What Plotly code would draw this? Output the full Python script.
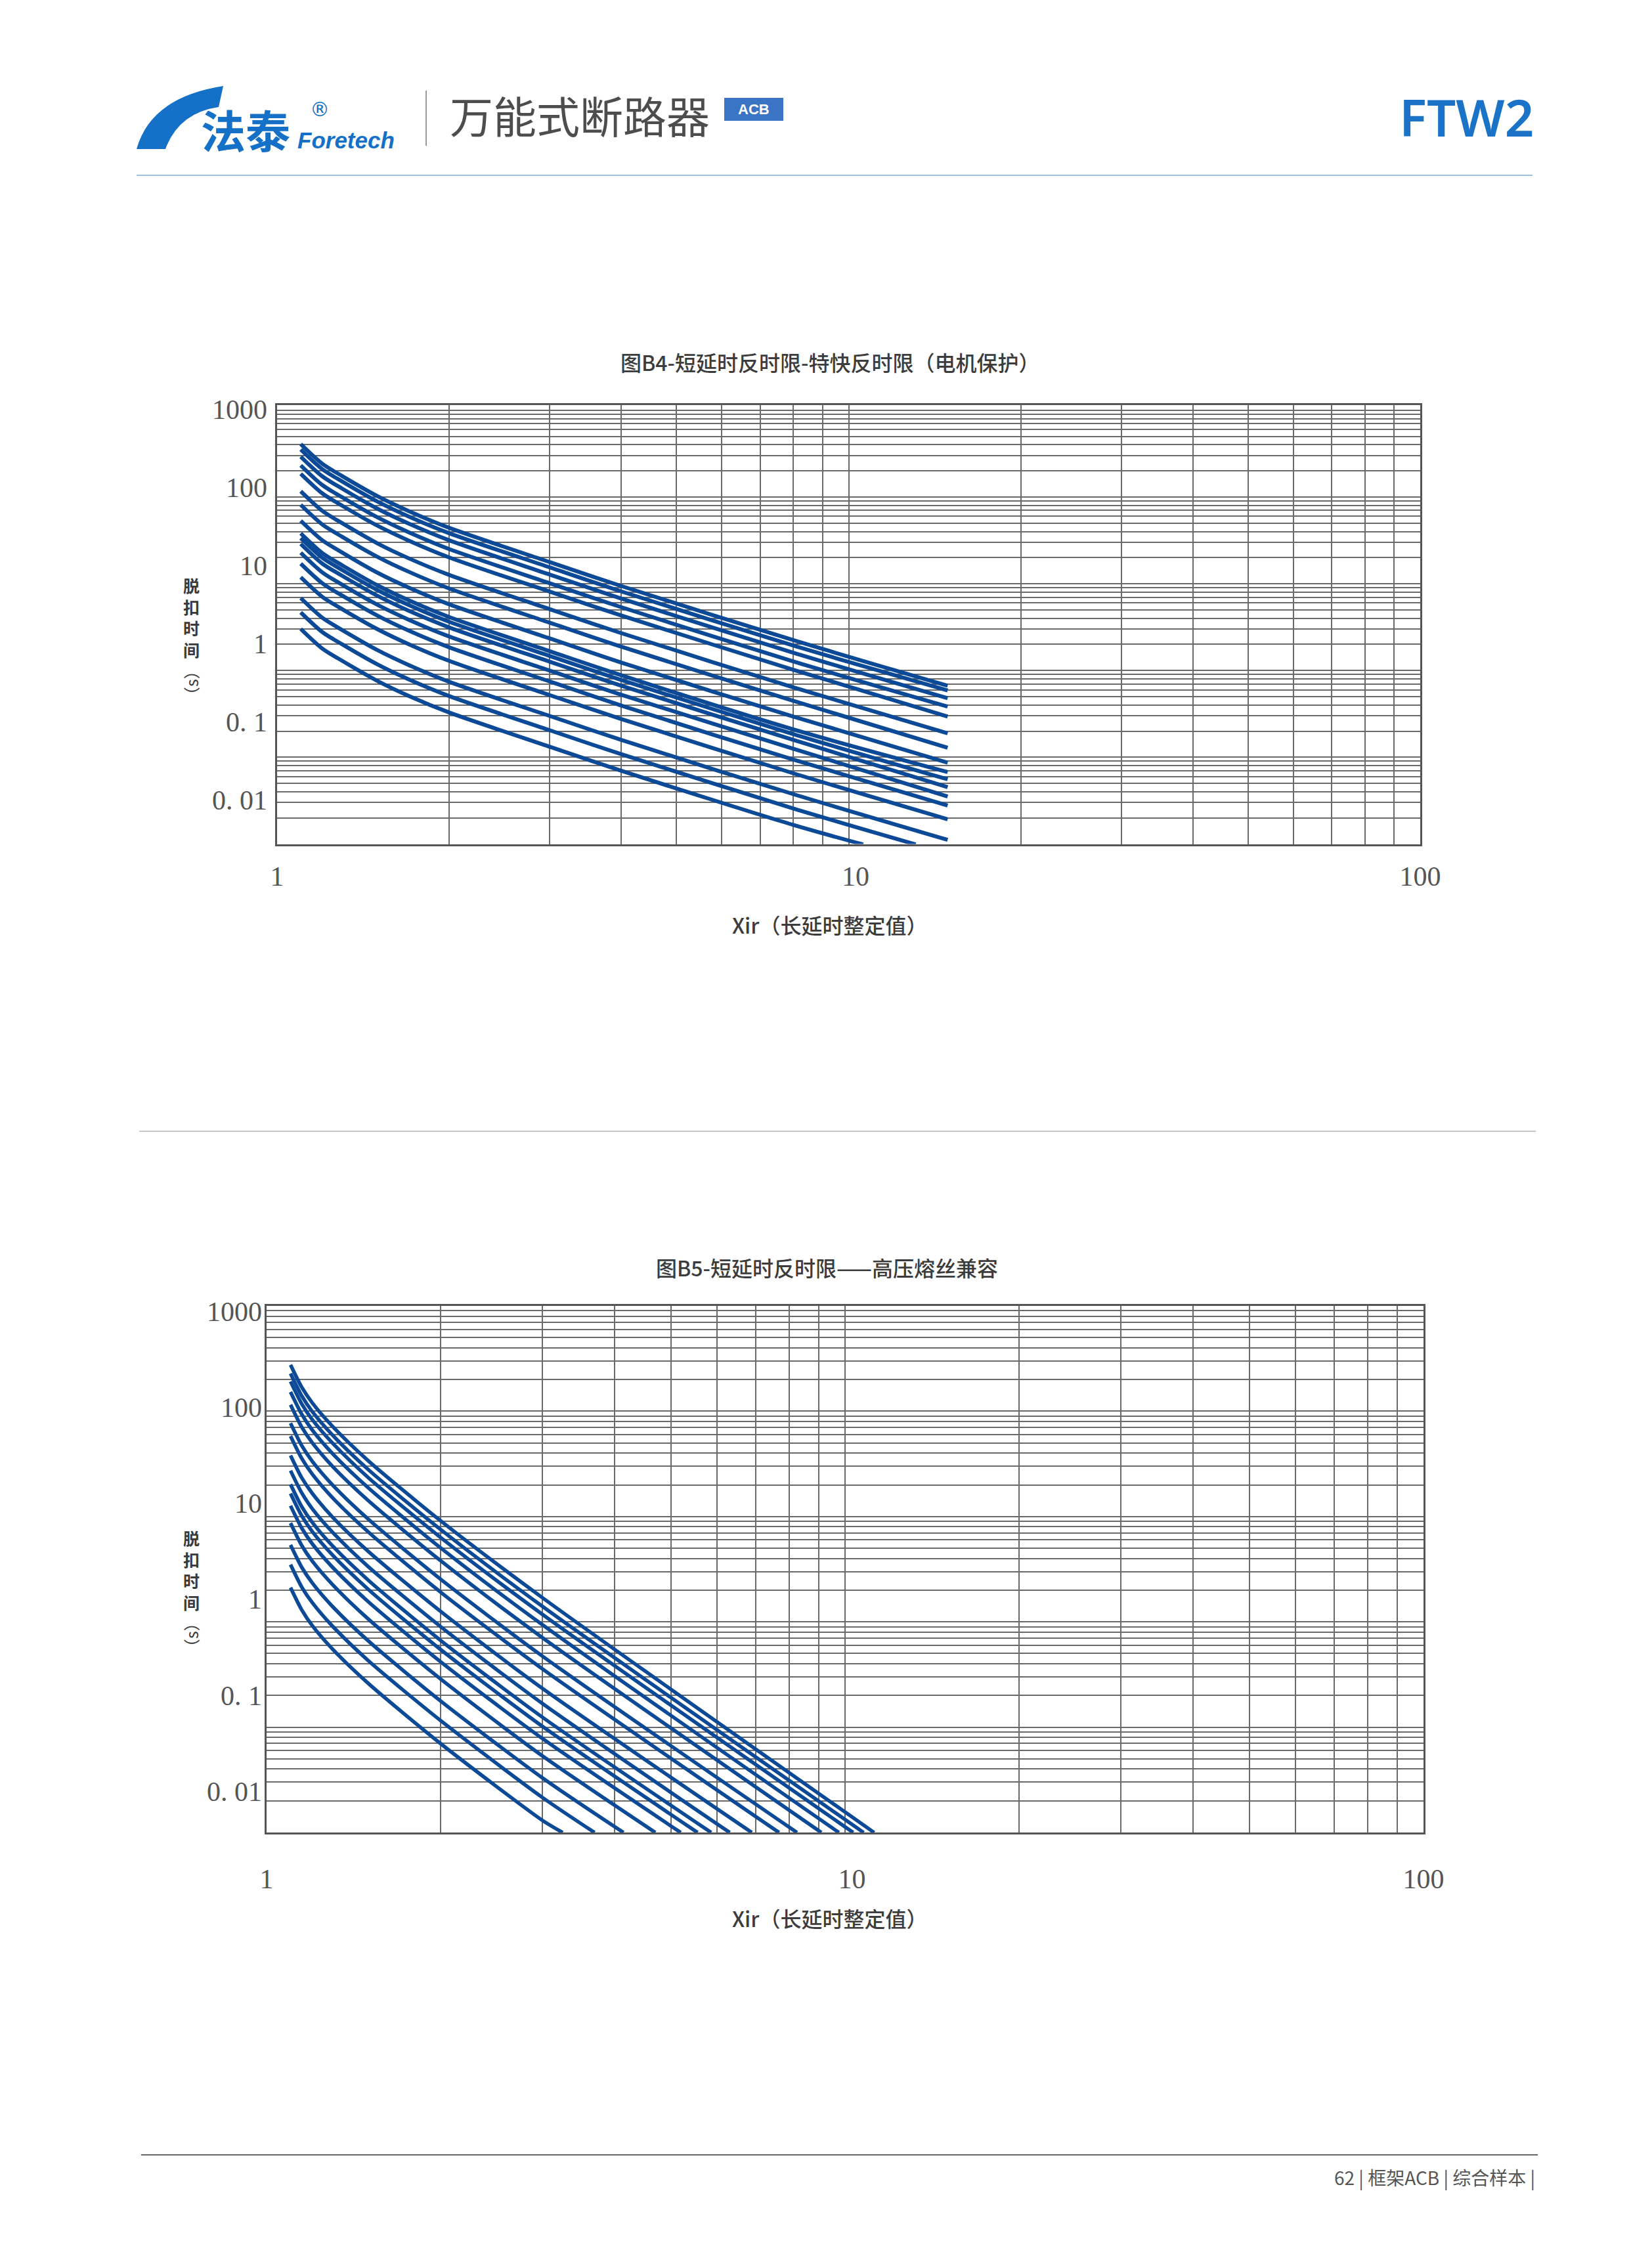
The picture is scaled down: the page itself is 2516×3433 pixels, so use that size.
import plotly.graph_objects as go

W, H = 2516, 3433

# ------------------------------------------------------------------ data
# Figure B4 : short-delay inverse time, extremely inverse (motor protection)
B4_XIR = [1.1, 1.2, 1.3, 1.5, 1.7, 2, 3, 4, 8, 14.9]
B4_TIMES = [
    [359, 201, 140, 77.2, 49.9, 30.5, 11.1, 5.49, 1.113, 0.290],
    [306, 171.4, 119.3, 65.8, 42.5, 26, 9.49, 4.68, 0.949, 0.253],
    [248, 138.9, 96.7, 53.3, 34.5, 21.1, 7.69, 3.79, 0.769, 0.201],
    [192, 107.5, 74.9, 41.3, 26.7, 16.3, 5.95, 2.94, 0.595, 0.157],
    [150, 84, 58.5, 32.3, 20.9, 12.75, 4.65, 2.30, 0.465, 0.117],
    [89.5, 50.1, 34.9, 19.2, 12.4, 7.61, 2.77, 1.37, 0.277, 0.0713],
    [60, 33.6, 23.4, 12.9, 8.34, 5.1, 1.86, 0.918, 0.186, 0.0466],
    [37.6, 21.1, 14.7, 8.08, 5.23, 3.2, 1.17, 0.575, 0.117, 0.0301],
    [25.9, 14.5, 10.1, 5.57, 3.6, 2.2, 0.803, 0.396, 0.0803, 0.0228],
    [22.5, 12.6, 8.78, 4.84, 3.13, 1.91, 0.698, 0.344, 0.0698, 0.0184],
    [19.0, 10.6, 7.41, 4.09, 2.64, 1.62, 0.589, 0.291, 0.0589, 0.0146],
    [14.6, 8.18, 5.69, 3.14, 2.03, 1.24, 0.453, 0.223, 0.0453, 0.0111],
    [10.6, 5.94, 4.13, 2.28, 1.47, 0.901, 0.329, 0.162, 0.0329, 0.0085],
    [7.1, 3.98, 2.77, 1.53, 0.987, 0.604, 0.22, 0.109, 0.022, 0.00567],
    [3.84, 2.15, 1.5, 0.826, 0.534, 0.326, 0.119, 0.0588, 0.0119, 0.00309],
]
B4_SHORT_XIR = [[1.1, 1.2, 1.3, 1.5, 1.7, 2, 3, 4, 8, 13.1],
                [1.1, 1.2, 1.3, 1.5, 1.7, 2, 3, 4, 8, 10.6]]
B4_SHORT_TIMES = [[2.52, 1.41, 0.983, 0.542, 0.35, 0.214, 0.0781, 0.0386, 0.0078, 0.0027],
                  [1.55, 0.868, 0.605, 0.333, 0.215, 0.132, 0.048, 0.0237, 0.0048, 0.0027]]

# Figure B5 : short-delay inverse time, HV fuse compatible
B5_XIR = [1.1, 1.15, 1.2, 1.3, 1.5, 2, 3]
B5_TIMES = [
    [276, 161.7, 110.4, 63.1, 27.5, 6.53, 1.032],
    [224, 131.3, 89.6, 51.2, 22.3, 5.30, 0.838],
    [185, 108.4, 74, 42.3, 18.4, 4.38, 0.692],
    [144, 84.4, 57.6, 32.9, 14.4, 3.41, 0.539],
    [106, 62.1, 42.4, 24.2, 10.6, 2.51, 0.396],
    [68, 39.8, 27.2, 15.5, 6.78, 1.61, 0.254],
    [50, 29.3, 20, 11.4, 4.99, 1.18, 0.187],
    [31.4, 18.4, 12.6, 7.17, 3.13, 0.743, 0.117],
    [21.8, 12.8, 8.72, 4.98, 2.17, 0.516, 0.0815],
    [15.7, 9.2, 6.28, 3.59, 1.57, 0.371, 0.0587],
    [12.6, 7.38, 5.04, 2.88, 1.26, 0.298, 0.0471],
    [9.4, 5.51, 3.76, 2.15, 0.937, 0.222, 0.0352],
    [6.2, 3.63, 2.48, 1.42, 0.618, 0.147, 0.0232],
    [3.67, 2.15, 1.47, 0.839, 0.366, 0.0868, 0.0137],
    [2.29, 1.34, 0.916, 0.523, 0.228, 0.0542, 0.00856],
    [1.32, 0.774, 0.528, 0.302, 0.132, 0.0312, 0.00494],
]
B5_END_XIR = [11.23, 10.77, 10.33, 9.76, 9.10, 8.26, 7.69, 6.90,
              6.32, 5.87, 5.56, 5.20, 4.70, 4.14, 3.69, 3.25]
B5_END_TIME = 0.0037

Y_TICKS = [0.01, 0.1, 1, 10, 100, 1000]
Y_TICKTEXT = ["0. 01", "0. 1", "1", "10", "100", "1000"]
X_TICKS = [1, 10, 100]
X_TICKTEXT = ["1", "\u00a0\u00a010", "100"]

TITLE_B4 = "图B4-短延时反时限-特快反时限（电机保护）"
TITLE_B5 = "图B5-短延时反时限——高压熔丝兼容"
X_TITLE = "Xir（长延时整定值）"
Y_TITLE = "脱扣时间"
Y_UNIT = "（s）"

# ------------------------------------------------------------------ style
BLUE = "#0c4a98"
GRID = "#6a6a6a"
FRAME = "#555555"
CJK = "Noto Sans CJK SC"
SERIF = "Liberation Serif"

def px(x):
    return x / W

def py(y):
    return 1 - y / H

grid_x = [m * 10 ** k for k in range(0, 2) for m in range(1, 10)] + [100]
grid_y = [m * 10.0 ** k for k in range(-2, 3) for m in range(1, 10)] + [1000]
xt_text = [X_TICKTEXT[X_TICKS.index(v)] if v in X_TICKS else "" for v in grid_x]

fig = go.Figure()

# invisible anchors so the grid subplots exist
fig.add_trace(go.Scatter(x=[1], y=[1], mode="markers", marker=dict(opacity=0),
                         xaxis="x", yaxis="y", showlegend=False, hoverinfo="skip"))
fig.add_trace(go.Scatter(x=[1], y=[1], mode="markers", marker=dict(opacity=0),
                         xaxis="x2", yaxis="y3", showlegend=False, hoverinfo="skip"))

line_top = dict(color=BLUE, width=6, shape="spline", smoothing=0.8)
for t in B4_TIMES:
    fig.add_trace(go.Scatter(x=B4_XIR, y=t, mode="lines", line=line_top,
                             xaxis="x", yaxis="y2", showlegend=False, hoverinfo="skip"))
for xs, t in zip(B4_SHORT_XIR, B4_SHORT_TIMES):
    fig.add_trace(go.Scatter(x=xs, y=t, mode="lines", line=line_top,
                             xaxis="x", yaxis="y2", showlegend=False, hoverinfo="skip"))

line_bot = dict(color=BLUE, width=5.5, shape="spline", smoothing=0.7)
for t, xe in zip(B5_TIMES, B5_END_XIR):
    xs = B5_XIR[:len(t)] + [xe]
    ys = t + [B5_END_TIME]
    fig.add_trace(go.Scatter(x=xs, y=ys, mode="lines", line=line_bot,
                             xaxis="x2", yaxis="y4", showlegend=False, hoverinfo="skip"))

# chart geometry (pixels)
T = dict(l=422, r=2163, t=617, b=1285.5, one=980.5, dec=119.0, gtop=624.8, gdec=132.0)
B = dict(l=406, r=2168, t=1989, b=2791, top_lab=1997, dec=146.2)

def grid_x_axis(dom, anchor, standoff):
    return dict(domain=dom, anchor=anchor, type="log", range=[0, 2],
                tickvals=grid_x, ticktext=xt_text, ticks="", automargin=False,
                showgrid=True, gridcolor=GRID, gridwidth=1.6,
                showline=True, mirror=True, linecolor=FRAME, linewidth=3,
                zeroline=False, ticklabelstandoff=standoff,
                tickfont=dict(family=SERIF, size=42, color="#555555"))

def grid_y_axis(dom, anchor, rng):
    return dict(domain=dom, anchor=anchor, type="log", range=rng,
                tickvals=grid_y, showticklabels=False, ticks="", automargin=False,
                showgrid=True, gridcolor=GRID, gridwidth=1.6,
                showline=True, mirror=True, linecolor=FRAME, linewidth=3,
                zeroline=False)

def label_y_axis(over, anchor, rng, standoff):
    return dict(overlaying=over, anchor=anchor, side="left", type="log", range=rng,
                tickvals=Y_TICKS, ticktext=Y_TICKTEXT, ticks="", automargin=False,
                showgrid=False, showline=False, zeroline=False,
                ticklabelstandoff=standoff,
                tickfont=dict(family=SERIF, size=42, color="#555555"))

top_y_dom = [py(T["b"]), py(T["t"])]
bot_y_dom = [py(B["b"]), py(B["t"])]

layout = dict(
    template="none", autosize=False,
    width=W, height=H, margin=dict(l=0, r=0, t=0, b=0, pad=0, autoexpand=False),
    paper_bgcolor="white", plot_bgcolor="white", showlegend=False,
    xaxis=grid_x_axis([px(T["l"]), px(T["r"])], "y", 10),
    yaxis=grid_y_axis(top_y_dom, "x", [-2, 3 + (T["gtop"] - T["t"]) / T["gdec"]]),
    yaxis2=label_y_axis("y", "x", [(T["one"] - T["b"]) / T["dec"], (T["one"] - T["t"]) / T["dec"]], 14),
    xaxis2=grid_x_axis([px(B["l"]), px(B["r"])], "y3", 32),
    yaxis3=grid_y_axis(bot_y_dom, "x2", [-2, 3]),
    yaxis4=label_y_axis("y3", "x2", [3 - (B["b"] - B["top_lab"]) / B["dec"], 3 + (B["top_lab"] - B["t"]) / B["dec"]], 6),
)
fig.update_layout(**layout)

ann = []
def txt(x, y, s, size, color, family=CJK, xanchor="center", yanchor="middle",
        weight="normal", style="normal", angle=0):
    ann.append(dict(x=px(x), y=py(y), xref="paper", yref="paper", text=s, showarrow=False,
                    xanchor=xanchor, yanchor=yanchor, textangle=angle,
                    font=dict(family=family, size=size, color=color, weight=weight, style=style)))

# chart titles and axis titles
txt(1264, 551, TITLE_B4, 32, "#3c3c3c", weight=500)
txt(1260, 1930, TITLE_B5, 32, "#3c3c3c", weight=500)
txt(1264, 1408, X_TITLE, 32, "#3c3c3c", weight=500)
txt(1264, 2921, X_TITLE, 32, "#3c3c3c", weight=500)
stack = "<br>".join(Y_TITLE)
txt(291, 940, stack, 25, "#3a3a3a", weight="bold")
txt(291, 2391, stack, 25, "#3a3a3a", weight="bold")
txt(291, 1040, Y_UNIT, 25, "#3a3a3a", angle=-90)
txt(291, 2490, Y_UNIT, 25, "#3a3a3a", angle=-90)

# header
txt(374, 197, "法泰", 68, "#1570c8", weight="bold")
txt(451, 213, "Foretech", 35, "#1570c8", family="Liberation Sans", xanchor="left",
    weight="bold", style="italic")
txt(487, 166, "®", 30, "#1570c8", family="DejaVu Sans")
txt(683, 174, "万能式断路器", 66, "#4d4d4d", xanchor="left")
txt(1148, 166, "ACB", 22, "white", family="Liberation Sans", weight="bold")
txt(2338, 178, "FTW2", 78, "#1b73c8", family="Noto Sans", xanchor="right", weight=600)

# footer
txt(2340, 3316, "62 | 框架ACB | 综合样本 |", 28, "#555555", xanchor="right")

fig.update_layout(annotations=ann)

shapes = []
def hline(x0, x1, y, color, width):
    shapes.append(dict(type="line", xref="paper", yref="paper", x0=px(x0), x1=px(x1),
                       y0=py(y), y1=py(y), line=dict(color=color, width=width)))

hline(208, 2334, 267, "#9dbfe3", 2)
hline(212, 2339, 1723, "#c6c6c6", 2)
hline(215, 2342, 3282, "#666666", 2)
shapes.append(dict(type="line", xref="paper", yref="paper", x0=px(649), x1=px(649),
                   y0=py(138), y1=py(222), line=dict(color="#9a9a9a", width=2)))
shapes.append(dict(type="rect", xref="paper", yref="paper", x0=px(1103), x1=px(1193),
                   y0=py(184), y1=py(149), fillcolor="#3b74c4", line=dict(width=0)))

def path(pts):
    out = []
    for cmd, *xy in pts:
        s = cmd
        for i in range(0, len(xy), 2):
            s += " %.5f,%.5f" % (px(xy[i]), py(xy[i + 1]))
        out.append(s)
    return " ".join(out) + " Z"

swoosh = path([("M", 208, 227), ("Q", 230, 148, 340, 131), ("L", 333, 163),
               ("Q", 272, 172, 252, 227)])
shapes.append(dict(type="path", xref="paper", yref="paper", path=swoosh,
                   fillcolor="#1570c8", line=dict(width=0)))
fig.update_layout(shapes=shapes)

post = ("document.documentElement.style.margin='0';document.documentElement.style.padding='0';"
        "document.body.style.margin='0';document.body.style.padding='0';"
        "document.body.style.overflow='hidden';document.documentElement.style.overflow='hidden';")

fig.write_html("out.html", config={"responsive": False, "displayModeBar": False},
               default_width="2516px", default_height="3433px", post_script=post)
